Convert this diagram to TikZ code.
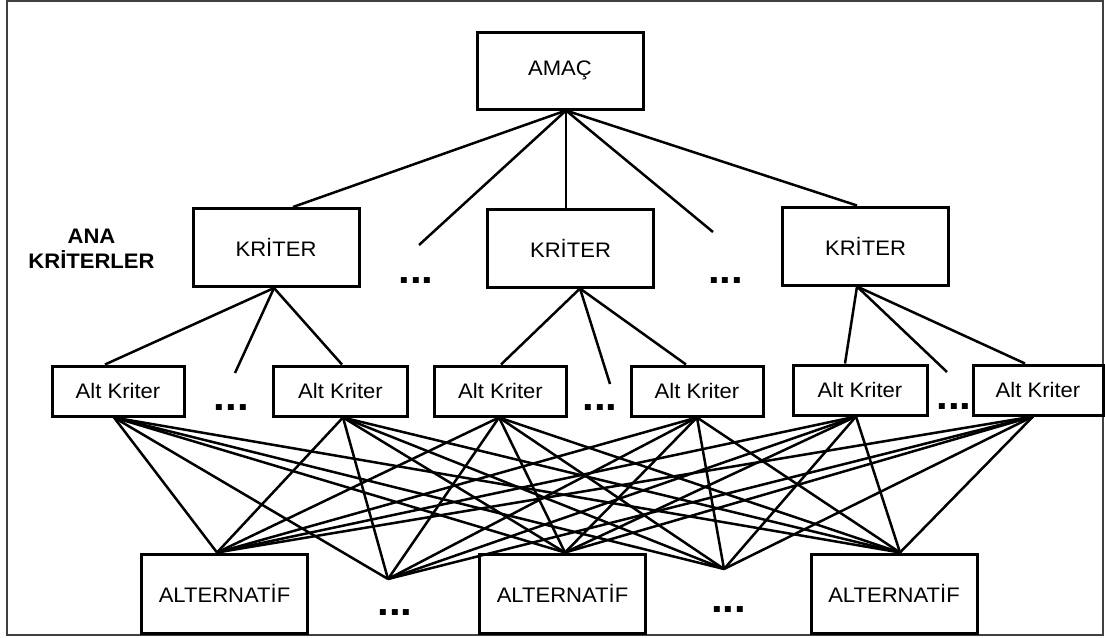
\documentclass[tikz,border=0pt]{standalone}
\usepackage{fontspec}
\setmainfont{Liberation Sans}[FakeStretch=1.05]
\begin{document}
\begin{tikzpicture}[x=1pt,y=-1pt,
  box/.style={draw, line width=3pt, inner sep=0pt, font=\fontsize{21}{25}\selectfont},
  bigbox/.style={box, minimum width=166pt, minimum height=78pt},
  altbox/.style={box, minimum height=50pt},
  link/.style={line width=2.5pt},
  dots/.style={inner sep=0pt, anchor=base, font=\fontsize{40}{40}\selectfont\bfseries},
  frame/.style={line width=1.5pt, draw=black!75}]
\useasboundingbox (0,0) rectangle (1105,637);
\draw[frame] (7,1) rectangle (1103,635);

% goal
\node[box, minimum width=166pt, minimum height=77pt] (amac) at (560,70.5) {AMAÇ};

% main criteria
\node[bigbox] (k1) at (276,247.5) {KRİTER};
\node[bigbox] (k2) at (570.5,248) {KRİTER};
\node[bigbox] (k3) at (865.5,246) {KRİTER};
\node[font=\fontsize{21}{25.5}\selectfont\bfseries, align=center, inner sep=0pt] (ana) at (91.5,249) {ANA\\KRİTERLER};

% sub criteria
\node[altbox, minimum width=132pt] (s1) at (118,391) {Alt Kriter};
\node[altbox, minimum width=134pt] (s2) at (340.5,391) {Alt Kriter};
\node[altbox, minimum width=132pt] (s3) at (500.5,391) {Alt Kriter};
\node[altbox, minimum width=132pt] (s4) at (697,391) {Alt Kriter};
\node[altbox, minimum width=134pt] (s5) at (860,390) {Alt Kriter};
\node[altbox, minimum width=130pt] (s6) at (1038,390) {Alt Kriter};

% alternatives
\node[bigbox, minimum height=79pt] (a1) at (224.5,593.5) {ALTERNATİF};
\node[bigbox, minimum height=79pt] (a2) at (562.5,593.5) {ALTERNATİF};
\node[bigbox, minimum height=79pt] (a3) at (894,593.5) {ALTERNATİF};

% ellipses
\node[dots] (d1) at (416,283) {...};
\node[dots] (d2) at (725.5,283) {...};
\node[dots] (d3) at (231.5,410) {...};
\node[dots] (d4) at (600,410.5) {...};
\node[dots] (d5) at (954,409) {...};
\node[dots] (d6) at (395,615.5) {...};
\node[dots] (d7) at (728.5,612.5) {...};

% free ends of the "more items" connectors
\coordinate (f1) at (419,245);
\coordinate (f2) at (713,232);
\coordinate (f3) at (235,373);
\coordinate (f4) at (610,384);
\coordinate (f5) at (947,372);
\coordinate (g1) at (388,579);
\coordinate (g2) at (724,569);

% attachment points on the boxes
\coordinate (amacB) at ([xshift=6pt]amac.south);
\coordinate (k1T) at ([xshift=17pt]k1.north);
\coordinate (k2T) at ([xshift=-4.5pt]k2.north);
\coordinate (k3T) at ([xshift=-8.5pt]k3.north);
\coordinate (k1B) at ([xshift=-2pt]k1.south);
\coordinate (k2B) at ([xshift=9.5pt]k2.south);
\coordinate (k3B) at ([xshift=-8.5pt]k3.south);
\coordinate (s1T) at ([xshift=-13pt]s1.north);
\coordinate (s2T) at ([xshift=1.5pt]s2.north);
\coordinate (s3T) at ([xshift=0.5pt]s3.north);
\coordinate (s4T) at ([xshift=-11pt]s4.north);
\coordinate (s5T) at ([xshift=-15pt]s5.north);
\coordinate (s6T) at ([xshift=-13pt]s6.north);
\coordinate (s1B) at ([xshift=-4pt]s1.south);
\coordinate (s2B) at ([xshift=2.5pt]s2.south);
\coordinate (s3B) at ([xshift=-1.5pt]s3.south);
\coordinate (s4B) at (s4.south);
\coordinate (s5B) at ([xshift=-4pt]s5.south);
\coordinate (s6B) at ([xshift=-5pt]s6.south);
\coordinate (a1T) at ([xshift=-7.5pt]a1.north);
\coordinate (a2T) at ([xshift=2.5pt]a2.north);
\coordinate (a3T) at ([xshift=6pt]a3.north);

% goal to main criteria
\foreach \t in {k1T,f1,k2T,f2,k3T}
  \draw[link] (amacB) -- (\t);

% main criteria to sub criteria
\draw[link] (s1T) -- (k1B) -- (s2T);
\draw[link] (k1B) -- (f3);
\draw[link] (s3T) -- (k2B) -- (s4T);
\draw[link] (k2B) -- (f4);
\draw[link] (s5T) -- (k3B) -- (s6T);
\draw[link] (k3B) -- (f5);

% every sub criterion to every alternative
\foreach \s in {s1B,s2B,s3B,s4B,s5B,s6B}
  \foreach \a in {a1T,g1,a2T,g2,a3T}
    \draw[link] (\s) -- (\a);
\end{tikzpicture}
\end{document}
